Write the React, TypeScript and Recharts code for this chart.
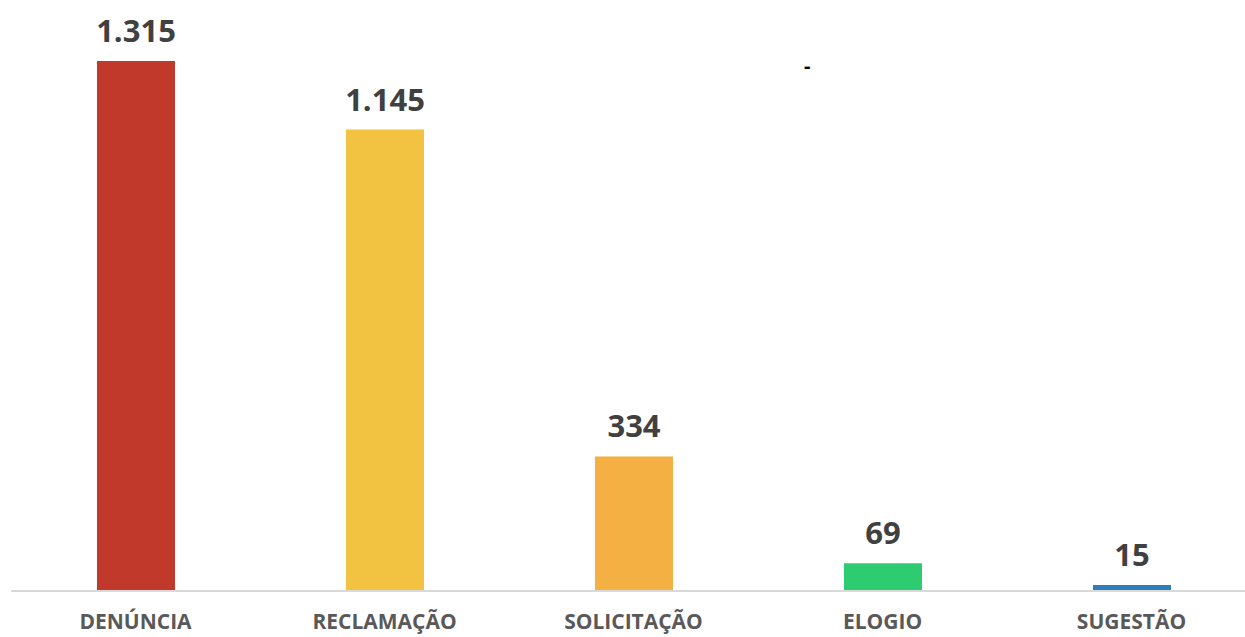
import { BarChart, Bar, XAxis, YAxis, Cell, LabelList } from 'recharts';

const categories = ['DENÚNCIA', 'RECLAMAÇÃO', 'SOLICITAÇÃO', 'ELOGIO', 'SUGESTÃO'];
const totals = [1315, 1145, 334, 69, 15];
const barColors = ['#c0392b', '#f2c241', '#f4b042', '#2ecc71', '#2e7ebc'];

const data = categories.map((name, i) => ({ name, value: totals[i] }));

const fmt = (v: number) => v.toLocaleString('pt-BR');

export default function App() {
  return (
    <div style={{ position: 'absolute', left: 0, top: 0, width: 1245, height: 637, overflow: 'hidden', background: '#fff' }}>
      <BarChart width={1256} height={637} data={data} margin={{ top: 61, right: 0, bottom: 0, left: 11 }} barCategoryGap={85}>
        <XAxis
          dataKey="name"
          height={46}
          tickLine={false}
          axisLine={{ stroke: '#d9d9d9', strokeWidth: 2 }}
          tick={{ fill: '#595959', fontSize: 21, fontWeight: 700, fontFamily: '"Open Sans", sans-serif', dy: 15 }}
          interval={0}
        />
        <YAxis hide domain={[0, 1315]} />
        <Bar dataKey="value" isAnimationActive={false} barSize={78}>
          {data.map((d, i) => (
            <Cell key={d.name} fill={barColors[i]} />
          ))}
          <LabelList
            dataKey="value"
            position="top"
            offset={19}
            formatter={(v: any) => fmt(Number(v))}
            style={{ fill: '#404040', fontSize: 31, fontWeight: 700, fontFamily: '"Open Sans", sans-serif' }}
          />
        </Bar>
      </BarChart>
      <span style={{ position: 'absolute', left: 804, top: 52, fontSize: 20, fontWeight: 700, color: '#000', fontFamily: '"Open Sans", sans-serif' }}>-</span>
    </div>
  );
}
